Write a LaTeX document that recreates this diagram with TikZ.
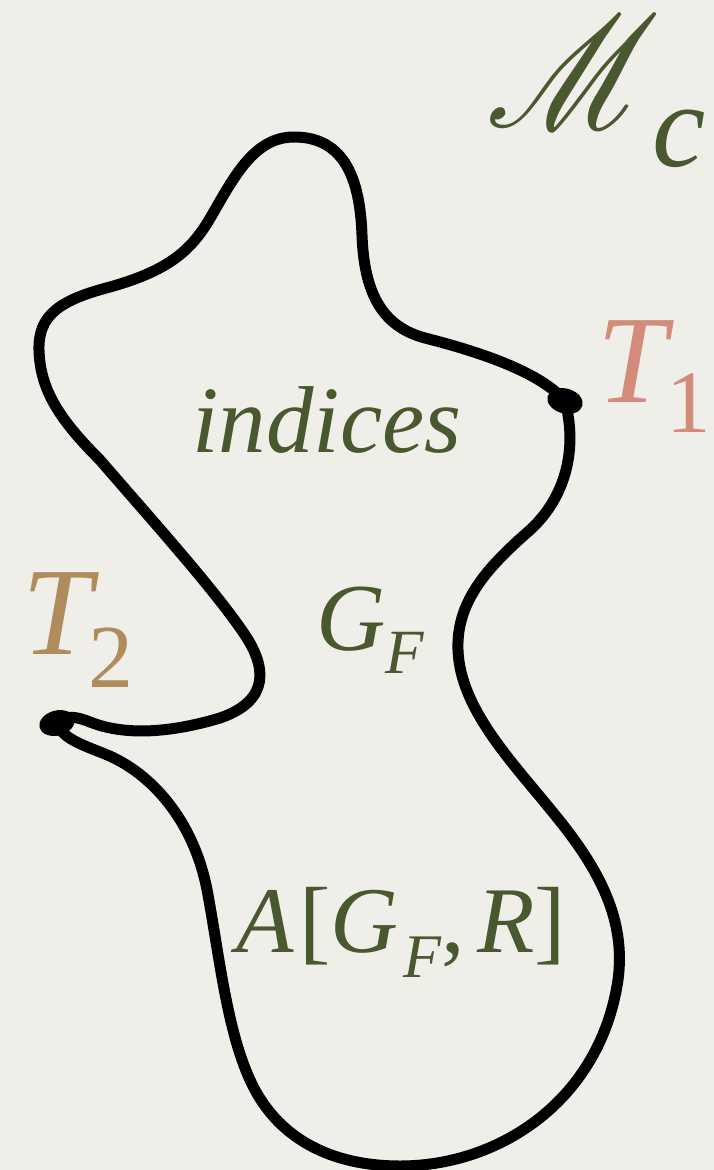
\documentclass[tikz,border=0pt]{standalone}
\usepackage{fontspec}
\usepackage{graphicx}
\usepackage{mathrsfs}
\setmainfont{Liberation Serif}
\definecolor{paper}{RGB}{240,238,233}
\definecolor{leaf}{RGB}{73,88,47}
\definecolor{salmon}{RGB}{211,139,122}
\definecolor{sand}{RGB}{176,140,92}
\newcommand{\fsz}[1]{\fontsize{#1}{#1}\selectfont}

\begin{document}
\begin{tikzpicture}[x=1pt, y=-1pt,
  lbl/.style={inner sep=0pt, anchor=base west, font=\itshape},
  curve/.style={line width=11pt, line cap=round, line join=round}]
  % paper
  \path[use as bounding box, fill=paper] (0,0) rectangle (714,1170);
  % end points
  \coordinate (t1) at (565,401);
  \coordinate (t2) at (57,723);
  % upper lobe, T1 to T2
  \draw[curve] (t1) .. controls (540,372) and (480,352) .. (425,338)
    .. controls (380,326) and (364,290) .. (362,235)
    .. controls (360,180) and (345,137) .. (294,137)
    .. controls (255,137) and (235,175) .. (212,215)
    .. controls (192,250) and (170,270) .. (110,287)
    .. controls (60,300) and (38,315) .. (39,350)
    .. controls (40,390) and (60,420) .. (100,460)
    .. controls (150,518) and (215,590) .. (245,635)
    .. controls (265,665) and (272,700) .. (220,718)
    .. controls (180,730) and (130,738) .. (90,722)
    .. controls (75,716) and (65,715) .. (t2);
  % lower lobe, T2 back to T1
  \draw[curve] (t2) .. controls (62,738) and (80,744) .. (105,754)
    .. controls (150,772) and (195,820) .. (208,895)
    .. controls (220,960) and (228,1040) .. (255,1090)
    .. controls (285,1145) and (340,1166) .. (400,1166)
    .. controls (500,1166) and (600,1100) .. (618,980)
    .. controls (626,920) and (600,870) .. (555,815)
    .. controls (515,765) and (460,710) .. (458,650)
    .. controls (456,600) and (490,565) .. (530,530)
    .. controls (565,498) and (578,450) .. (t1);
  \fill[rotate around={-15:(t1)}] (t1) ellipse [x radius=18, y radius=12.5];
  \fill[rotate around={15:(t2)}] (t2) ellipse [x radius=18, y radius=12.5];
  % labels
  \node[lbl, leaf] (mc) at (486,127) {\raisebox{0pt}[110pt][0pt]{\scalebox{14}[16]{\usefont{U}{rsfs}{m}{n}M}}};
  \node[lbl, leaf] (mcsub) at (652,166) {\fsz{120}c};
  \node[lbl, salmon] (tone) at (597,402) {\fsz{125}T\raisebox{-30pt}{\fsz{89}\upshape 1}};
  \node[lbl, sand] (ttwo) at (22,654) {\fsz{125}T\kern-3pt\raisebox{-33pt}{\fsz{90}\upshape 2}};
  \node[lbl, leaf] (idx) at (192,452) {\fsz{95}indices};
  \node[lbl, leaf] (gf) at (316,650) {\fsz{96}G\raisebox{-23pt}{\fsz{63}F}};
  \node[lbl, leaf] (agr) at (236,952) {\fsz{94}A\kern6pt{\upshape[}G\kern5pt\raisebox{-25pt}{\fsz{62}F}{\upshape,}\kern12pt R{\upshape]}};
\end{tikzpicture}
\end{document}
